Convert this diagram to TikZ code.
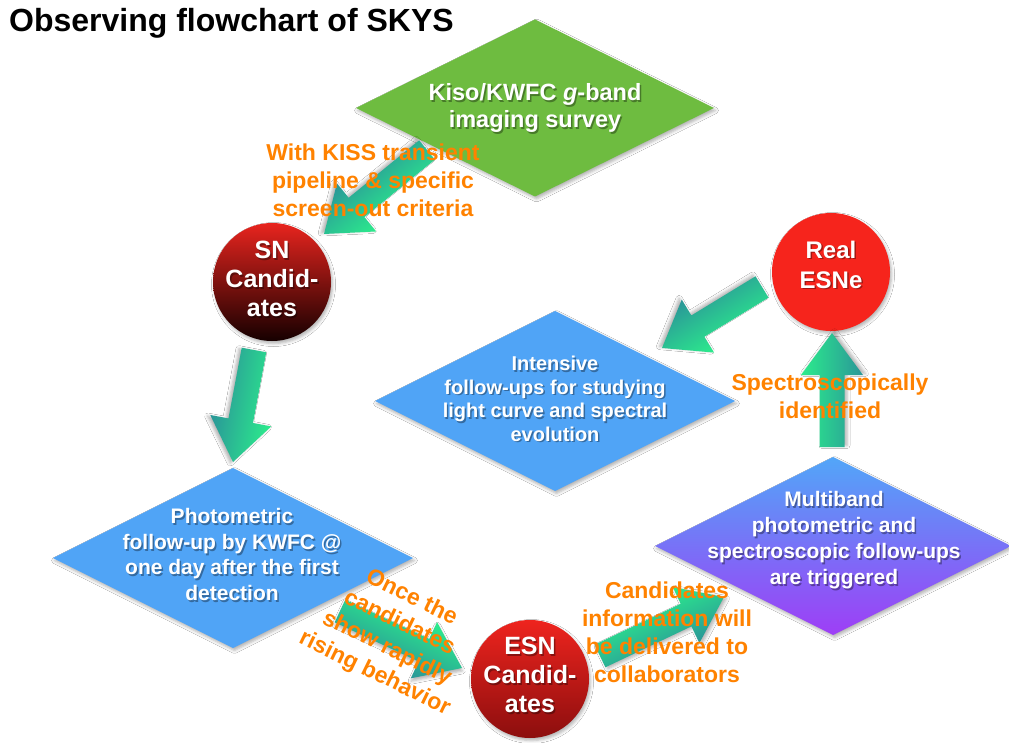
\documentclass[tikz,border=0pt]{standalone}
\usepackage{fontspec}
\setmainfont{Liberation Sans}
\usetikzlibrary{shapes.geometric,shadows.blur,calc}

\definecolor{surveygreen}{RGB}{110,188,64}
\definecolor{followblue}{RGB}{80,164,246}
\definecolor{multitop}{RGB}{82,166,248}
\definecolor{multibottom}{RGB}{158,62,246}
\definecolor{realred}{RGB}{246,36,28}
\definecolor{labelorange}{RGB}{255,130,0}
\definecolor{arrowgreen}{RGB}{44,236,140}
\definecolor{arrowteal}{RGB}{42,150,152}
\definecolor{snred}{RGB}{232,36,30}
\definecolor{sndark}{RGB}{22,0,0}
\definecolor{esnred}{RGB}{238,36,30}
\definecolor{esndark}{RGB}{140,14,14}

% centred lines of white text with a soft cast shadow
\newcommand\linestack[1]{\begin{tabular}{@{}c@{}}#1\end{tabular}}
\newcommand\embossed[1]{\leavevmode
  \rlap{\raisebox{-1.8pt}{\hspace{1.5pt}\color{black}\pgfsetfillopacity{0.35}\linestack{#1}\pgfsetfillopacity{1}}}%
  \linestack{#1}}

\tikzset{
  softshadow/.style={blur shadow={shadow xshift=1.5pt, shadow yshift=-2.5pt,
      shadow blur radius=3pt, shadow opacity=30}},
  diamondbox/.style={shape=diamond, inner sep=0pt, outer sep=0pt, softshadow},
  discbox/.style={circle, minimum size=118pt, inner sep=0pt, softshadow},
  boxtext/.style={text=white, inner sep=0pt},
  notetext/.style={text=labelorange, font=\bfseries\fontsize{23}{28}\selectfont,
      align=center, inner sep=0pt},
  bigarrow/.style={top color=arrowgreen, bottom color=arrowteal, softshadow},
}

% fat shaded block arrow from one named coordinate to another
\makeatletter
\newcommand\blockarrow[2]{%
  \pgfmathanglebetweenpoints{\pgfpointanchor{#1}{center}}{\pgfpointanchor{#2}{center}}%
  \edef\ba@angle{\pgfmathresult}%
  \pgfpointdiff{\pgfpointanchor{#1}{center}}{\pgfpointanchor{#2}{center}}%
  \pgfmathveclen{\the\pgf@x}{\the\pgf@y}%
  \edef\ba@len{\pgfmathresult}%
  \pgfmathsetmacro\ba@neck{\ba@len-42}%
  \begin{scope}[transform canvas={shift={(#1)},rotate=\ba@angle}]
    \shade[bigarrow] (0pt,-12.5pt) -- (\ba@neck pt,-12.5pt) -- (\ba@neck pt,-31pt)
      -- (\ba@len pt,0pt) -- (\ba@neck pt,31pt) -- (\ba@neck pt,12.5pt)
      -- (0pt,12.5pt) -- cycle;
  \end{scope}}
\makeatother

\begin{document}
\begin{tikzpicture}[x=1pt,y=-1pt,font=\bfseries]
\useasboundingbox (0,0) rectangle (1009,743);
\fill[white] (0,0) rectangle (1009,743);

% title
\node[anchor=base west, inner sep=0pt, font=\bfseries\fontsize{32}{37}\selectfont]
  (title) at (9,32) {Observing flowchart of SKYS};

% stages
\node[diamondbox, fill=surveygreen, minimum width=358pt, minimum height=177pt]
  (survey) at (535,108) {};
\node[boxtext, font=\bfseries\fontsize{23.5}{27}\selectfont] (survey-text) at (535,110)
  {\embossed{Kiso/KWFC \textit{g}-band\\imaging survey}};

\node[diamondbox, fill=followblue, minimum width=360pt, minimum height=180pt]
  (intensive) at (555,401) {};
\node[boxtext, font=\bfseries\fontsize{20}{23.5}\selectfont] (intensive-text) at (555,402)
  {\embossed{Intensive\\follow-ups for studying\\light curve and spectral\\evolution}};

\node[diamondbox, fill=followblue, minimum width=360pt, minimum height=180pt]
  (photometric) at (233,558) {};
\node[boxtext, font=\bfseries\fontsize{21}{25.5}\selectfont] (photometric-text) at (232,558)
  {\embossed{Photometric\\follow-up by KWFC @\\one day after the first\\detection}};

\node[diamondbox, top color=multitop, bottom color=multibottom,
      minimum width=356pt, minimum height=178pt]
  (multiband) at (833,546) {};
\node[boxtext, font=\bfseries\fontsize{21}{26}\selectfont] (multiband-text) at (834,541)
  {\embossed{Multiband\\photometric and\\spectroscopic follow-ups\\are triggered}};

% candidate discs
\node[discbox, top color=snred, bottom color=sndark] (sn) at (272,282) {};
\node[boxtext, font=\bfseries\fontsize{25}{29}\selectfont] (sn-text) at (272,283)
  {\embossed{SN\\Candid-\\ates}};

\node[discbox, top color=esnred, bottom color=esndark] (esn) at (530,679) {};
\node[boxtext, font=\bfseries\fontsize{25}{29}\selectfont] (esn-text) at (530,679)
  {\embossed{ESN\\Candid-\\ates}};

\node[discbox, fill=realred] (real) at (831,272) {};
\node[boxtext, font=\bfseries\fontsize{24}{30}\selectfont] (real-text) at (831,268)
  {\embossed{Real\\ESNe}};

% arrow ends
\coordinate (survey-out) at (427,150);  \coordinate (sn-in) at (324,234);
\coordinate (sn-out) at (254,350);      \coordinate (phot-in) at (233,462);
\coordinate (phot-out) at (340,611);    \coordinate (esn-in) at (462,668);
\coordinate (esn-out) at (600,656);     \coordinate (multi-in) at (724,597);
\coordinate (multi-out) at (832,447);   \coordinate (real-in) at (832,333);
\coordinate (real-out) at (762,287);    \coordinate (intensive-in) at (662,348);

\blockarrow{survey-out}{sn-in}
\blockarrow{sn-out}{phot-in}
\blockarrow{phot-out}{esn-in}
\blockarrow{esn-out}{multi-in}
\blockarrow{multi-out}{real-in}
\blockarrow{real-out}{intensive-in}

% transition notes
\node[notetext] (kiss-note) at (373,180)
  {With KISS transient\\pipeline \& specific\\screen-out criteria};
\node[notetext, rotate=-26] (rising-note) at (393,636)
  {Once the\\candidates\\show rapidly\\rising behavior};
\node[notetext] (deliver-note) at (667,632)
  {Candidates\\information will\\be delivered to\\collaborators};
\node[notetext] (spec-note) at (830,396)
  {Spectroscopically\\identified};
\end{tikzpicture}
\end{document}
